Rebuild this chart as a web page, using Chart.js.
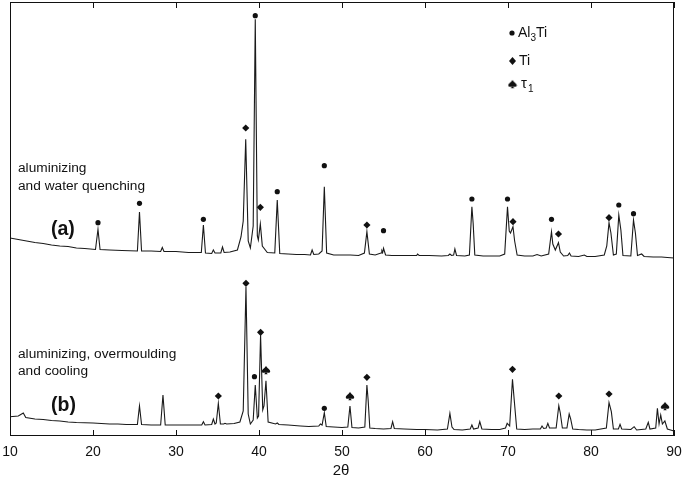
<!DOCTYPE html>
<html>
<head>
<meta charset="utf-8">
<script src="https://cdn.jsdelivr.net/npm/chart.js@4.4.1/dist/chart.umd.min.js"></script>
<style>
  html, body { margin: 0; padding: 0; background: #fff; }
  canvas { display: block; }
</style>
</head>
<body>
<canvas id="xrd" width="685" height="482"></canvas>
<script>
// x axis
const xTicks = [10, 20, 30, 40, 50, 60, 70, 80, 90];

// (a) aluminizing and water quenching  -- 2theta / intensity (arb. units)
const thetaA = [10.0, 11.0, 12.0, 13.0, 14.0, 15.0, 16.0, 17.0, 18.0, 19.0,
  20.3, 20.6, 20.85, 22.0, 23.5, 25.35, 25.6, 25.85, 27.0, 28.15, 28.35, 28.55,
  30.0, 31.5, 33.05, 33.3, 33.55, 34.3, 34.5, 34.7, 35.4, 35.6, 35.8, 36.5, 37.4,
  37.83, 38.1, 38.4, 38.7, 38.96, 39.3, 39.55, 39.8, 39.92, 40.16, 40.4, 41.0,
  41.9, 42.2, 42.5, 43.5, 44.5, 45.5, 46.2, 46.4, 46.6, 47.2, 47.6, 47.87, 48.15,
  49.0, 50.0, 51.0, 52.0, 52.7, 53.0, 53.3, 54.0, 54.7, 54.8, 54.9, 55.0, 55.25,
  56.0, 57.0, 58.0, 59.0, 59.1, 59.3, 60.5, 62.0, 62.8, 63.0, 63.2, 63.45, 63.6,
  63.8, 64.8, 65.35, 65.65, 65.8, 66.0, 67.0, 68.0, 69.0, 69.6, 69.94, 70.15,
  70.3, 70.6, 70.8, 71.1, 72.0, 73.0, 73.5, 74.0, 74.9, 75.24, 75.4, 75.7, 76.08,
  76.3, 76.7, 77.2, 77.4, 77.6, 78.5, 79.2, 79.5, 80.5, 81.6, 81.9, 82.17, 82.4,
  82.7, 83.05, 83.35, 83.6, 83.85, 84.8, 85.12, 85.35, 85.6, 86.1, 86.4, 87.5,
  88.5, 89.2, 90.0];
const intA = [198, 196.5, 195, 193.5, 192.5, 191, 190, 189.5, 188, 187.5,
  186.5, 206.7, 186.5, 186, 185.5, 185, 224, 185, 185, 184.5, 188.5, 184.5,
  184.5, 183.5, 183.5, 211, 183, 182.5, 186, 183, 183, 189, 183.5, 184, 186,
  199, 215, 296.7, 195, 188, 210, 416.7, 200, 196, 212, 190, 183.5,
  183, 236, 182.5, 182, 181.5, 181.5, 181, 186, 181.5, 182, 185, 249.3, 183,
  181, 181, 181, 180.5, 183, 204.3, 182, 181, 183, 185.3, 183.5, 187.7, 181,
  180.5, 180.5, 180.5, 180.5, 182, 180.5, 180.5, 180, 180.5, 182, 180.5, 181, 187,
  180.5, 180, 181, 229.3, 213, 181, 180, 180, 180, 182, 229.3, 205,
  203, 209.3, 195, 181, 180, 180, 181.5, 180, 182, 204.3, 192, 186, 193.3,
  184, 180, 180.5, 183, 180, 179.5, 181, 179.5, 179.5, 181, 190, 213.3, 203,
  181, 182, 221, 206, 180.5, 180, 216, 203, 180.5, 182, 179.5, 179,
  179, 178.5, 178];

// (b) aluminizing, overmoulding and cooling
const thetaB = [10.0, 11.0, 11.6, 11.9, 13.0, 14.0, 15.0, 16.0, 17.0, 18.0, 19.0,
  20.0, 21.0, 22.0, 23.0, 24.0, 25.35, 25.6, 25.85, 27.0, 28.15, 28.43, 28.7,
  30.0, 31.0, 32.0, 33.1, 33.3, 33.5, 34.3, 34.5, 34.7, 34.85, 35.1, 35.35, 35.75,
  35.9, 36.1, 37.0, 37.7, 38.1, 38.43, 38.7, 38.96, 39.3, 39.55, 39.8, 39.95,
  40.19, 40.45, 40.6, 40.84, 41.1, 42.0, 42.2, 42.4, 43.5, 45.0, 46.0, 47.2, 47.4,
  47.6, 47.87, 48.1, 49.0, 50.0, 50.7, 50.96, 51.2, 52.0, 52.75, 53.0, 53.15, 53.35,
  54.0, 55.0, 55.9, 56.1, 56.3, 57.5, 59.0, 60.0, 61.5, 62.7, 63.0, 63.25, 63.5,
  64.5, 65.45, 65.65, 65.85, 66.4, 66.6, 66.85, 68.0, 69.0, 69.7, 69.9, 70.2,
  70.54, 70.75, 71.05, 72.0, 73.0, 73.9, 74.1, 74.3, 74.6, 74.8, 75.0, 75.8, 76.12,
  76.3, 76.55, 77.1, 77.37, 77.55, 77.8, 78.5, 79.5, 80.5, 81.85, 82.17, 82.45,
  82.7, 83.3, 83.5, 83.7, 84.8, 85.2, 85.5, 86.6, 86.9, 87.1, 87.8, 88.0, 88.2,
  88.4, 88.6, 88.9, 89.2, 90.0];
const intB = [19.3, 20, 23, 18.5, 17, 16.5, 15.5, 15, 14, 13.5, 13.2,
  13, 12.5, 12, 12, 11.5, 11.5, 30, 11.5, 11, 11, 41, 11,
  11, 11, 11, 11, 14.3, 11, 11.5, 17, 12, 13, 32.7, 12, 12,
  12.7, 12, 12.5, 14, 25, 149, 22, 12, 16, 51, 18, 20,
  101, 26, 30, 55.3, 14, 12, 13, 11.5, 11, 10, 9.5, 10, 12,
  11, 23.3, 9.5, 9, 8.5, 9, 30, 8.5, 8, 9, 51, 36, 8,
  7.5, 7, 7.5, 14.3, 7.5, 7, 6.5, 6.5, 6, 7, 22.7, 9, 6.5,
  6, 7, 11, 7, 8, 14.3, 7, 6.5, 6.5, 8, 12.7, 10,
  56.7, 36, 7, 6.5, 7, 7, 10, 7.5, 8, 12.7, 8, 8, 30.3,
  23, 8, 8, 22, 17, 7, 6.5, 6, 6, 8, 33.3, 24.3,
  7, 7, 11.7, 7, 6.5, 9.3, 6, 7, 13.7, 7, 8, 27.7, 12,
  21, 12, 15, 7, 5];

// phase markers (2theta, height)
const al3tiAx = [20.6, 25.6, 33.3, 39.55, 42.2, 47.87, 55.0, 65.65, 69.94, 75.24, 83.35, 85.12];
const al3tiAy = [213.3, 232.7, 216.7, 420.3, 244.3, 270.3, 205.3, 237, 237, 216.7, 231, 222.3];
const tiAx = [38.4, 40.16, 53.0, 70.6, 76.08, 82.17];
const tiAy = [308, 228.7, 211, 214.3, 202, 218.3];
const al3tiBx = [39.45, 47.87];
const al3tiBy = [59.3, 27.7];
const tiBx = [35.1, 38.43, 40.19, 53.0, 70.54, 76.12, 82.17];
const tiBy = [40, 152.7, 103.7, 58.7, 66.7, 40, 42];
const tauBx = [40.84, 50.96, 88.92];
const tauBy = [66, 40, 30];

const FONT = '"Liberation Sans", Arial, Helvetica, sans-serif';
const INK = '#111';

function pts(xs, ys) { return xs.map((x, i) => ({ x: x, y: ys[i] })); }

// spade symbol for tau1
function makeSpade(size) {
  const c = document.createElement('canvas');
  c.width = size; c.height = size;
  const g = c.getContext('2d');
  const cx = size / 2, cy = size / 2, s = size * 0.42;
  g.fillStyle = INK;
  g.beginPath();
  g.moveTo(cx, cy - s);
  g.bezierCurveTo(cx + 0.3 * s, cy - 0.4 * s, cx + s, cy - 0.1 * s, cx + s, cy + 0.35 * s);
  g.bezierCurveTo(cx + s, cy + 0.75 * s, cx + 0.4 * s, cy + 0.8 * s, cx + 0.1 * s, cy + 0.45 * s);
  g.lineTo(cx + 0.4 * s, cy + s);
  g.lineTo(cx - 0.4 * s, cy + s);
  g.lineTo(cx - 0.1 * s, cy + 0.45 * s);
  g.bezierCurveTo(cx - 0.4 * s, cy + 0.8 * s, cx - s, cy + 0.75 * s, cx - s, cy + 0.35 * s);
  g.bezierCurveTo(cx - s, cy - 0.1 * s, cx - 0.3 * s, cy - 0.4 * s, cx, cy - s);
  g.closePath();
  g.fill();
  return c;
}
const spade = makeSpade(10);

function markerSet(data, style, radius) {
  return {
    data: data, showLine: false, pointStyle: style, pointRadius: radius,
    pointBackgroundColor: INK, pointBorderColor: INK, pointBorderWidth: 0,
    pointHoverRadius: radius
  };
}

// frame, inward ticks, tick labels, annotations and legend
const decor = {
  id: 'decor',
  afterDraw(chart) {
    const ctx = chart.ctx;
    const a = chart.chartArea;
    const xs = chart.scales.x;
    ctx.save();
    ctx.strokeStyle = INK;
    ctx.lineWidth = 1;
    ctx.strokeRect(Math.round(a.left) + 0.5, Math.round(a.top) + 0.5,
      Math.round(a.right - a.left) - 1, Math.round(a.bottom - a.top) - 1);
    ctx.beginPath();
    xTicks.forEach(t => {
      const px = Math.round(xs.getPixelForValue(t)) + 0.5;
      ctx.moveTo(px, a.top); ctx.lineTo(px, a.top + 6);
      ctx.moveTo(px, a.bottom); ctx.lineTo(px, a.bottom - 6);
    });
    ctx.stroke();

    ctx.fillStyle = INK;
    ctx.textBaseline = 'middle';
    ctx.textAlign = 'center';
    ctx.font = '14px ' + FONT;
    xTicks.forEach(t => ctx.fillText(String(t), xs.getPixelForValue(t), a.bottom + 16.5));
    ctx.font = '15px ' + FONT;
    ctx.fillText('2\u03b8', (a.left + a.right) / 2 - 1, a.bottom + 34.5);

    ctx.textAlign = 'left';
    ctx.font = '13.7px ' + FONT;
    ctx.fillText('aluminizing', 18, 168);
    ctx.fillText('and water quenching', 18, 186);
    ctx.fillText('aluminizing, overmoulding', 18, 354);
    ctx.fillText('and cooling', 18, 371);
    ctx.font = 'bold 19.5px ' + FONT;
    ctx.fillText('(a)', 51, 230);
    ctx.fillText('(b)', 51, 406);

    // legend
    const lx = 512, tx = 518;
    ctx.beginPath(); ctx.arc(lx, 33, 2.6, 0, Math.PI * 2); ctx.fill();
    ctx.beginPath();
    ctx.moveTo(lx + 0.5, 57); ctx.lineTo(lx + 4, 61); ctx.lineTo(lx + 0.5, 65); ctx.lineTo(lx - 3, 61);
    ctx.closePath(); ctx.fill();
    ctx.drawImage(spade, lx - 4.5, 79);
    ctx.font = '14px ' + FONT;
    ctx.fillText('Al', tx, 33);
    let w = ctx.measureText('Al').width;
    ctx.font = '10px ' + FONT;
    ctx.fillText('3', tx + w, 38);
    const w3 = ctx.measureText('3').width;
    ctx.font = '14px ' + FONT;
    ctx.fillText('Ti', tx + w + w3, 33);
    ctx.fillText('Ti', tx + 1, 61);
    ctx.font = '15px ' + FONT;
    ctx.fillText('\u03c4', tx + 3, 84);
    ctx.font = '10px ' + FONT;
    ctx.fillText('1', tx + 10, 89);
    ctx.restore();
  }
};

new Chart(document.getElementById('xrd'), {
  type: 'scatter',
  data: {
    datasets: [
      { data: pts(thetaA, intA), showLine: true, borderColor: '#1a1a1a', borderWidth: 1.1, pointRadius: 0, tension: 0 },
      { data: pts(thetaB, intB), showLine: true, borderColor: '#1a1a1a', borderWidth: 1.1, pointRadius: 0, tension: 0 },
      markerSet(pts(al3tiAx, al3tiAy), 'circle', 2.6),
      markerSet(pts(tiAx, tiAy), 'rectRot', 3.6),
      markerSet(pts(al3tiBx, al3tiBy), 'circle', 2.6),
      markerSet(pts(tiBx, tiBy), 'rectRot', 3.6),
      markerSet(pts(tauBx, tauBy), spade, 5)
    ]
  },
  options: {
    responsive: false,
    animation: false,
    layout: { autoPadding: false, padding: { left: 10, right: 11, top: 2, bottom: 46 } },
    plugins: { legend: { display: false }, tooltip: { enabled: false } },
    scales: {
      x: {
        type: 'linear', min: 10, max: 90,
        afterBuildTicks: s => { s.ticks = xTicks.map(v => ({ value: v })); },
        grid: { display: false, drawTicks: false },
        border: { display: false },
        ticks: { display: false }
      },
      y: { display: false, min: 0, max: 434 }
    }
  },
  plugins: [decor]
});
</script>
</body>
</html>
